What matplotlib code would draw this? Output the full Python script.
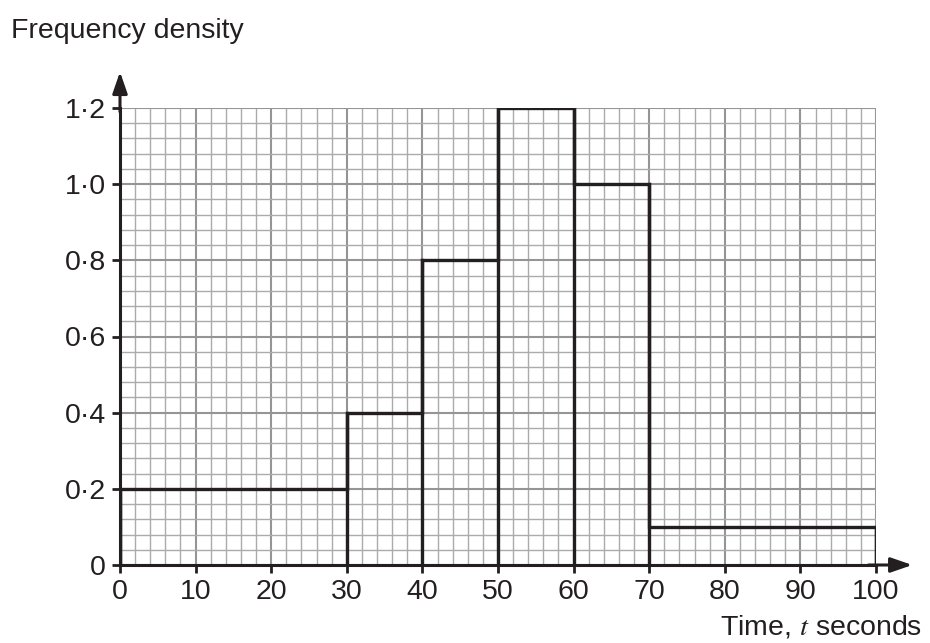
import numpy as np
import matplotlib.pyplot as plt

# histogram data
bin_edges = [0, 30, 40, 50, 60, 70, 100]
freq_density = [0.2, 0.4, 0.8, 1.2, 1.0, 0.1]
x_ticks = [0, 10, 20, 30, 40, 50, 60, 70, 80, 90, 100]
y_ticks = [0, 0.2, 0.4, 0.6, 0.8, 1.0, 1.2]
y_labels = ["0", "0·2", "0·4", "0·6", "0·8", "1·0", "1·2"]

plt.rcParams["font.family"] = ["Liberation Sans", "DejaVu Sans"]
plt.rcParams["mathtext.fontset"] = "stix"

ink = "#231f20"
fs = 20.5

fig = plt.figure(figsize=(9.3, 6.43), dpi=100)
ax = fig.add_axes([120 / 930, 1 - 565 / 643, 756 / 930, 457 / 643])
ax.set_xlim(0, 100)
ax.set_ylim(0, 1.2)

# graph paper grid
for xv in np.arange(0, 101, 2):
    major = xv % 10 == 0
    ax.axvline(xv, color="#959595" if major else "#ababab",
               lw=1.5 if major else 1.0, zorder=1)
for yv in np.arange(0, 1.2001, 0.04):
    major = round(yv / 0.04) % 5 == 0
    ax.axhline(yv, color="#959595" if major else "#ababab",
               lw=1.5 if major else 1.0, zorder=1)

# histogram outline
ax.stairs(freq_density, bin_edges, color=ink, lw=2.4, zorder=3)
for e, h0, h1 in zip(bin_edges, [0] + freq_density, freq_density + [0]):
    ax.plot([e, e], [0, max(h0, h1)], color=ink, lw=2.4, zorder=3,
            solid_capstyle="projecting")

for s in ["top", "right"]:
    ax.spines[s].set_visible(False)
for s in ["left", "bottom"]:
    ax.spines[s].set_linewidth(2.2)
    ax.spines[s].set_color(ink)
    ax.spines[s].set_zorder(4)

# axis arrows
ax.annotate("", xy=(104.8, 0), xytext=(99, 0), annotation_clip=False,
            arrowprops=dict(arrowstyle="-|>,head_length=1.3,head_width=0.45",
                            color=ink, lw=2.2, shrinkA=0, shrinkB=0))
ax.annotate("", xy=(0, 1.295), xytext=(0, 1.19), annotation_clip=False,
            arrowprops=dict(arrowstyle="-|>,head_length=1.3,head_width=0.45",
                            color=ink, lw=2.2, shrinkA=0, shrinkB=0))

ax.set_xticks(x_ticks)
ax.set_xticklabels([str(v) for v in x_ticks])
ax.set_yticks(y_ticks)
ax.set_yticklabels(y_labels)
ax.tick_params(axis="both", direction="out", length=6, width=2,
               color=ink, labelsize=fs, labelcolor=ink)
ax.tick_params(axis="x", pad=4)
ax.tick_params(axis="y", pad=4)

fig.text(11 / 930, 1 - 38 / 643, "Frequency density", fontsize=fs,
         color=ink, ha="left", va="baseline")
fig.text(922 / 930, 1 - 635 / 643, "Time, $t$ seconds", fontsize=fs,
         color=ink, ha="right", va="baseline")

fig.savefig("out.png", dpi=100)
